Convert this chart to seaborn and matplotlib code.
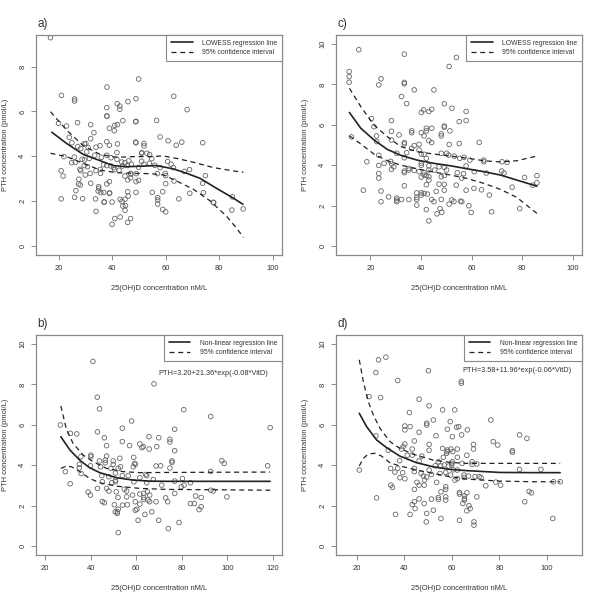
import matplotlib
matplotlib.use("Agg")
import matplotlib.pyplot as plt
from matplotlib.lines import Line2D
import seaborn as sns

# ---------------- Panel a (LOWESS) ----------------
a_x = [17, 38.1, 49.9, 21.1, 26, 26, 63, 45.9, 41.9, 42.9, 42.9, 48.9, 38, 68, 38, 38.1, 48.8, 48.9, 56.6, 44,
       41, 42, 39, 40.8, 20, 23, 27.1, 32, 33.2, 24, 25, 29.6, 32, 27.2, 28.3, 30.2, 31.1, 34, 35.5, 38,
       39, 42, 48.8, 48.9, 51.9, 51.9, 51, 51.1, 57.9, 60.9, 66, 63.9, 73.8, 22, 25.9, 24.9, 26.3, 30.5, 31.5, 33.5,
       29.7, 28.8, 29.6, 28, 28.3, 30.8, 36, 38, 39.6, 41.8, 41.8, 43.6, 43.8, 44.8, 46.2, 45.7, 47.2, 40.6, 41, 42.6,
       39.6, 38, 36.8, 35.6, 34, 35.7, 31.8, 30, 27.6, 27.5, 28.1, 26.5, 21, 21.7, 21, 26, 29, 32, 35, 35,
       34.8, 35.8, 33.8, 34, 37, 37.1, 39, 39.1, 38, 39, 36.9, 40, 40, 41, 43, 43, 43.7, 44, 45, 44.8,
       45.8, 46.9, 45.8, 46, 44.8, 44.8, 46.9, 47, 45.8, 46.9, 48.9, 48.9, 49.9, 49, 49.9, 51.9, 53.9, 54.8, 54, 53,
       55.9, 56.9, 57.9, 59.8, 60, 60.7, 62, 62.9, 63.1, 60, 58.9, 57, 57, 57, 55, 58.9, 60, 64.9, 67, 68.9,
       69, 73.8, 74.1, 74.8, 77.8, 77.9, 84.7, 84.9, 88.9, 51]
a_y = [9.3, 7.09, 7.45, 6.72, 6.56, 6.47, 6.68, 6.44, 6.35, 6.24, 6.1, 6.57, 6.17, 6.08, 5.8, 5.78, 5.54, 5.56, 5.6, 5.59,
       5.38, 5.41, 5.25, 5.14, 5.47, 5.35, 5.5, 5.41, 5.05, 4.84, 4.6, 4.55, 4.78, 4.43, 4.34, 4.57, 4.38, 4.4, 4.47, 4.65,
       4.49, 4.55, 4.63, 4.6, 4.57, 4.46, 4.13, 4.16, 4.86, 4.69, 4.63, 4.49, 4.6, 3.98, 3.96, 3.71, 3.73, 4.19, 3.9, 4.04,
       3.83, 3.86, 3.58, 3.41, 3.35, 3.53, 3.95, 4.04, 3.93, 4.16, 3.86, 3.74, 3.56, 3.71, 3.79, 3.58, 3.64, 3.49, 3.4, 3.37,
       3.56, 3.58, 3.62, 3.41, 3.35, 3.23, 3.23, 3.16, 2.97, 2.76, 2.71, 2.46, 3.35, 3.11, 2.09, 2.16, 2.1, 2.79, 2.64, 2.56,
       2.44, 2.37, 2.09, 1.53, 1.94, 1.96, 2.34, 2.36, 2.76, 2.86, 2.38, 1.95, 0.95, 1.21, 1.28, 2.07, 1.98, 1.77, 1.79, 1.58,
       1.04, 1.21, 2.41, 2.22, 2.07, 3.11, 3.23, 3.2, 2.94, 3.03, 2.38, 2.86, 2.92, 3.22, 3.5, 3.64, 3.68, 3.89, 4.07, 4.13,
       3.59, 3.22, 3.49, 3.23, 3.13, 3.76, 3.64, 3.49, 2.89, 2.77, 2.41, 2.15, 2.04, 1.86, 2.38, 1.62, 1.51, 2.09, 3.32, 3.4,
       2.34, 2.79, 2.37, 3.13, 1.94, 1.92, 1.59, 2.18, 1.64, 3.77]
a_fit_x = [17.5, 23, 29.2, 35.5, 40.4, 45.4, 50.4, 56.6, 62.9, 67.9, 72.8, 79, 85.3, 88.8]
a_fit_y = [5.07, 4.57, 4.08, 3.8, 3.58, 3.53, 3.55, 3.58, 3.43, 3.23, 3.01, 2.56, 2.12, 1.85]
a_up_x = [17, 23, 29.2, 35.5, 41.7, 47.9, 54.1, 59.1, 64.1, 70.3, 77.8, 85.3, 89]
a_up_y = [5.99, 5.17, 4.47, 4.08, 3.95, 3.98, 3.98, 4.01, 3.9, 3.73, 3.49, 3.34, 3.28]
a_lo_x = [17, 23, 29.2, 35.5, 41.7, 47.9, 54.1, 59.1, 64.1, 70.3, 76.6, 82.8, 86.5, 89]
a_lo_y = [4.13, 3.98, 3.68, 3.38, 3.26, 3.23, 3.22, 3.16, 2.89, 2.52, 2.0, 1.3, 0.77, 0.37]

# ---------------- Panel c (LOWESS) ----------------
c_x = [11.6, 11.6, 11.6, 12.5, 15.4, 17.2, 18.6, 20.4, 21.4, 22.4, 22.5, 23.3, 24.2, 23.3, 23.3, 23.3, 23.3, 24.2, 24.2, 25.4,
       27.2, 28.3, 28.3, 28.3, 28, 28.4, 28.3, 29.2, 30.4, 30.4, 30.4, 30.4, 31.3, 32.3, 32.3, 33.4, 33.4, 33.4, 33.4, 33.4,
       33.4, 33.4, 33.4, 33.4, 34.3, 34.3, 35.2, 35.2, 35.2, 36.3, 36.3, 36.3, 37.3, 37.3, 37.3, 38.3, 38.3, 38.3, 38.3, 39.2,
       39.2, 39.2, 40.1, 40.1, 40.1, 40.1, 40.1, 40.1, 40.1, 40.1, 41, 41.2, 41.2, 41.2, 41.2, 41.2, 42.1, 42.1, 42.1, 42.1,
       42.1, 42.1, 42.5, 43.1, 43.1, 43.1, 43.1, 43.1, 43.1, 43.1, 44.2, 44.2, 44.2, 44.2, 45.1, 45.1, 45.4, 46, 46.3, 47.1,
       47.1, 47.5, 48, 48, 48, 48, 48, 48.2, 49.2, 49.2, 49.2, 49.2, 49.2, 49.2, 49.2, 50.1, 50.1, 50.9, 51.1, 51.1,
       51.1, 51.4, 52.2, 52.2, 53, 53.1, 53.9, 54, 54.3, 55.1, 55.1, 55.3, 55.6, 56.1, 56.1, 56.8, 57, 57.8, 57.8, 57.8,
       57.8, 58.9, 59.3, 59.8, 60.9, 61, 63, 63.9, 64.8, 64.8, 65.8, 67, 67.9, 71.9, 72, 72.8, 74, 76, 79, 80.9,
       84.1, 85.8, 85.8]
c_y = [8.64, 8.39, 8.11, 5.4, 9.72, 2.76, 4.17, 6.31, 5.91, 5.45, 5.17, 7.98, 8.28, 4.49, 3.99, 3.59, 3.36, 2.72, 2.19, 4.09,
       2.43, 6.21, 5.68, 5.25, 4.19, 4.06, 3.79, 3.92, 4.59, 2.37, 2.27, 2.19, 5.5, 2.3, 7.4, 9.5, 8.1, 8.03, 5.12, 5.05,
       4.37, 3.71, 3.63, 2.98, 7.05, 4.62, 3.84, 3.76, 2.3, 5.7, 5.61, 4.83, 7.73, 4.97, 3.74, 2.63, 2.4, 2.3, 2.02, 5.03,
       4.75, 3.68, 6.61, 5.61, 4.55, 4.09, 3.99, 3.41, 2.63, 2.52, 6.74, 5.45, 4.54, 3.63, 3.51, 2.6, 5.83, 5.7, 4.34, 3.49,
       3.03, 1.8, 2.57, 6.66, 5.22, 3.97, 3.76, 3.43, 3.26, 1.24, 6.77, 5.83, 5.12, 2.3, 7.73, 2.19, 3.76, 2.7, 1.59, 3.92,
       3.06, 1.85, 5.45, 5.55, 4.59, 3.43, 2.3, 1.67, 7.04, 5.94, 5.88, 3.89, 3.49, 3.05, 2.76, 4.59, 3.76, 4.5, 8.89, 5.03,
       2.07, 5.7, 6.82, 2.28, 2.2, 4.45, 3.01, 9.34, 3.63, 6.16, 5.07, 4.34, 2.22, 2.19, 3.36, 3.58, 4.39, 6.66, 6.21, 3.96,
       2.76, 1.99, 4.25, 1.66, 2.85, 3.68, 5.13, 2.78, 4.25, 4.17, 3.61, 2.52, 1.69, 3.71, 4.17, 3.61, 4.14, 2.91, 1.85, 3.39,
       3.01, 3.48, 3.13]
c_fit_x = [11.7, 16.2, 21.4, 26.7, 32, 38.5, 45.1, 51.7, 58.2, 64.8, 71.4, 77.9, 85.8]
c_fit_y = [6.61, 5.83, 5.25, 4.78, 4.49, 4.25, 4.09, 3.97, 3.82, 3.68, 3.51, 3.26, 2.96]
c_up_x = [11.7, 16.2, 21.4, 26.7, 32, 38.5, 45.1, 51.7, 58.2, 64.8, 71.4, 77.9, 81.9, 85.8]
c_up_y = [7.81, 6.9, 5.99, 5.41, 4.92, 4.67, 4.55, 4.45, 4.35, 4.22, 4.16, 4.22, 4.34, 4.45]
c_lo_x = [11.7, 16.2, 21.4, 26.7, 32, 38.5, 45.1, 51.7, 58.2, 64.8, 71.4, 77.9, 85.8]
c_lo_y = [5.45, 5.05, 4.55, 4.22, 4.0, 3.82, 3.66, 3.51, 3.34, 3.1, 2.8, 2.4, 1.61]

# ---------------- Panel b (non-linear) ----------------
b_x = [26.7, 28.9, 31, 31.1, 33.9, 35, 35, 35.7, 35.8, 38.9, 39.9, 40.1, 40.1, 39.9, 41, 42.9, 43, 43, 43.9, 43.9,
       44.3, 44.9, 45.1, 45.1, 46, 46, 46.4, 46.4, 47, 47, 47, 48, 48, 48.9, 49.3, 49.9, 49.9, 50.4, 50.8, 50.9,
       50.9, 50.9, 51.2, 51.7, 51.7, 52, 52.1, 52.1, 52.1, 52.8, 53.1, 53.9, 53.9, 53.9, 54, 54.8, 55.8, 55.8, 56.1, 56.5,
       57.1, 58, 58.4, 58.7, 58.9, 59, 59.3, 59.6, 59.6, 59.6, 60.3, 60.8, 61.6, 61.6, 61.6, 61.6, 62.5, 63.1, 63.3, 63.3,
       63.3, 63.8, 64.1, 64.6, 64.6, 64.9, 65.2, 65.6, 65.7, 65.9, 65.9, 66.8, 67.5, 67.8, 68.7, 68.7, 69, 69.9, 69.9, 70.7,
       71.2, 72.9, 73.8, 74.1, 74.8, 74.8, 74.8, 75.7, 75.7, 76.9, 76.9, 76.9, 76.9, 78.8, 79.8, 80.3, 80.9, 81, 83.8, 83.8,
       85.5, 86.1, 87.6, 88.5, 88.5, 92.7, 92.7, 92.7, 93.8, 97.6, 98.6, 99.8, 117.7, 118.8]
b_y = [5.99, 3.68, 3.08, 5.58, 5.55, 4.04, 3.87, 4.42, 3.59, 2.67, 2.52, 4.5, 4.42, 3.97, 9.14, 7.37, 5.65, 2.85, 6.79, 4.21,
       3.92, 3.48, 3.18, 2.2, 2.14, 5.36, 4.25, 4.12, 4.97, 4.45, 2.85, 2.72, 3.43, 3.84, 3.13, 4.21, 4.04, 2.04, 1.69, 3.61,
       3.26, 3.18, 2.68, 1.69, 1.61, 2.4, 0.66, 1.82, 3.84, 4.34, 3.92, 5.83, 5.17, 3.48, 2.02, 2.81, 2.72, 2.43, 2.04, 3.48,
       4.97, 6.19, 2.52, 3.92, 4.39, 3.18, 4.09, 4.04, 2.19, 1.77, 1.82, 1.27, 5.05, 3.38, 2.57, 2.07, 4.87, 4.92, 2.6, 2.4,
       2.3, 1.56, 3.54, 3.48, 3.13, 2.68, 2.27, 5.41, 4.8, 2.52, 2.19, 1.69, 3.29, 8.03, 3.96, 2.19, 4.92, 5.36, 1.27, 3.97,
       3.01, 2.38, 2.19, 0.86, 5.28, 5.15, 3.86, 4.21, 4.14, 5.78, 4.72, 3.21, 2.6, 1.16, 2.93, 3.34, 6.75, 3.01, 3.13, 2.1,
       2.1, 2.47, 1.8, 2.4, 1.94, 6.41, 3.69, 2.76, 2.72, 4.22, 4.09, 2.43, 3.97, 5.86]
b_fit_x = [26.9, 30.9, 35.2, 39.6, 44, 51.4, 58.7, 66, 73.4, 90, 118.8]
b_fit_y = [5.41, 4.75, 4.25, 3.87, 3.63, 3.38, 3.26, 3.21, 3.2, 3.2, 3.2]
b_up_x = [26.9, 29.4, 32.3, 36.7, 41.1, 47, 54.3, 61.6, 73.4, 118.8]
b_up_y = [6.94, 5.75, 5.08, 4.5, 4.17, 3.84, 3.68, 3.63, 3.64, 3.66]
b_lo_x = [26.9, 29.4, 31.6, 35.2, 39.6, 44, 51.4, 61.6, 73.4, 118.8]
b_lo_y = [3.84, 3.96, 3.92, 3.68, 3.34, 3.13, 2.96, 2.85, 2.8, 2.76]

# ---------------- Panel d (non-linear) ----------------
d_x = [21, 28, 29.1, 32.2, 25.1, 30, 28, 28.3, 33.2, 34.2, 34.3, 35, 36, 36.3, 37.2, 37.2, 38.1, 38, 38.8, 39.5,
       39.3, 40.2, 40.2, 40.2, 40.2, 41.2, 42.1, 42.4, 42.4, 43.3, 43.3, 43.3, 44.2, 44.2, 44.2, 44.2, 44.2, 44.5, 45.3, 46.2,
       46.2, 46.2, 46.2, 46.2, 47, 47.3, 48, 48.3, 48.3, 48.5, 49.2, 49.4, 49.4, 49.4, 49.4, 50.1, 50.4, 50.4, 50.4, 50.4,
       51.4, 51.4, 52.2, 52.2, 53, 53.3, 53.6, 54.3, 54.3, 54.3, 55, 55.3, 55.4, 55.4, 56.1, 56.1, 56.4, 56.8, 57.4, 57.4,
       57.4, 57.4, 57.4, 57.8, 58.1, 58.1, 58.1, 58.7, 59.3, 59.4, 59.6, 59.9, 59.9, 60.2, 60.2, 60.4, 60.6, 61.2, 61.3, 62,
       62.3, 62.3, 62.3, 62.3, 62.9, 63.2, 63.2, 63.2, 64, 64, 64.1, 64.3, 64.6, 65.1, 65.2, 65.3, 65.3, 65.3, 66.3, 66.3,
       66.3, 66.5, 67, 67.2, 67.7, 68.5, 68.5, 69.1, 69.1, 69.3, 69.3, 69.8, 70.5, 70.5, 71.5, 72.3, 74.3, 76.4, 77.4, 78.5,
       79.3, 80.5, 85.5, 85.5, 88.5, 88.5, 90.7, 91.6, 92.5, 93.5, 97.5, 102.5, 102.8, 105.6]
d_y = [3.76, 8.59, 9.22, 9.35, 7.4, 7.35, 5.45, 2.38, 4.74, 3.84, 3.01, 2.9, 3.66, 1.56, 8.2, 3.84, 3.38, 4.22, 4.8, 4.92,
       3.63, 5.94, 5.75, 5.05, 3.33, 4.49, 6.61, 5.91, 1.56, 4.5, 4.8, 2.05, 5.2, 3.84, 3.68, 2.8, 2.19, 1.85, 3.15, 7.27,
       5.63, 4.21, 3.01, 2.33, 3.59, 4.45, 3.46, 3.01, 2.1, 3.26, 1.19, 3.41, 1.61, 6.08, 5.99, 8.68, 6.94, 5.03, 4.74, 3.76,
       3.54, 2.32, 6.24, 1.77, 3.97, 5.46, 3.15, 4.17, 2.4, 2.3, 3.59, 3.96, 2.68, 1.36, 6.74, 4.83, 4.39, 4.01, 3.64, 2.93,
       2.8, 2.43, 2.27, 4.59, 5.78, 4.75, 4.67, 3.96, 6.16, 3.51, 4.8, 4.09, 4.01, 4.17, 5.41, 4.67, 3.77, 6.74, 3.26, 5.88,
       4.8, 4.39, 3.76, 3.34, 5.91, 1.27, 2.65, 2.57, 8.15, 8.06, 5.5, 4.09, 2.1, 3.51, 3.39, 2.48, 2.35, 2.27, 4.49, 2.63,
       1.74, 5.75, 3.46, 1.99, 1.85, 4.17, 4.04, 5.03, 4.8, 1.19, 1.03, 3.43, 4.06, 2.43, 3.43, 3.38, 2.98, 6.24, 5.17, 3.16,
       5.0, 3.01, 4.72, 4.64, 5.5, 3.79, 2.19, 5.33, 2.7, 2.63, 3.79, 1.36, 3.18, 3.18]
d_fit_x = [21, 24.1, 28.3, 32.5, 38.1, 45.2, 52.2, 59.2, 66.3, 80.3, 94.4, 105.6]
d_fit_y = [6.57, 5.91, 5.25, 4.87, 4.45, 4.12, 3.92, 3.79, 3.73, 3.64, 3.63, 3.63]
d_up_x = [21, 22.7, 24.8, 26.9, 29.7, 33.9, 38.1, 43.8, 52.2, 59.2, 66.3, 105.6]
d_up_y = [9.22, 8.15, 7.15, 6.49, 5.83, 5.17, 4.83, 4.54, 4.25, 4.14, 4.09, 4.09]
d_lo_x = [21, 22.7, 24.8, 27.6, 30.4, 33.9, 38.1, 45.2, 52.2, 59.2, 66.3, 80.3, 94.4, 105.6]
d_lo_y = [3.96, 4.34, 4.55, 4.59, 4.45, 4.12, 3.96, 3.76, 3.59, 3.43, 3.31, 3.21, 3.18, 3.18]

panel_labels = ["a)", "c)", "b)", "d)"]
x_label = "25(OH)D concentration nM/L"
y_label = "PTH concentration (pmol/L)"
legend_lowess = ["LOWESS regression line", "95% confidence interval"]
legend_nl = ["Non-linear regression line", "95% confidence interval"]
formula_b = "PTH=3.20+21.36*exp(-0.08*VitD)"
formula_d = "PTH=3.58+11.96*exp(-0.06*VitD)"

sns.set_style("ticks")
plt.rcParams["font.family"] = ["Liberation Sans", "DejaVu Sans"]

TXT = "#333333"
BOX = "#8a8a8a"
PT = "#666666"
LINE = "#222222"

fig = plt.figure(figsize=(6.0, 5.99), dpi=100)
W, H = 600, 599


def px_axes(l, t, r, b):
    return fig.add_axes([l / W, 1 - b / H, (r - l) / W, (b - t) / H])


panels = [
    dict(pos=(36, 35, 282, 255), x=a_x, y=a_y, fit=(a_fit_x, a_fit_y), up=(a_up_x, a_up_y), lo=(a_lo_x, a_lo_y),
         xlim=(11.6, 103.4), ylim=(-0.42, 9.42), xt=[20, 40, 60, 80, 100], yt=[0, 2, 4, 6, 8],
         leg=legend_lowess, formula=None, label=panel_labels[0], lab_xy=(37, 24)),
    dict(pos=(336, 35, 582, 255), x=c_x, y=c_y, fit=(c_fit_x, c_fit_y), up=(c_up_x, c_up_y), lo=(c_lo_x, c_lo_y),
         xlim=(6.4, 103.6), ylim=(-0.45, 10.45), xt=[20, 40, 60, 80, 100], yt=[0, 2, 4, 6, 8, 10],
         leg=legend_lowess, formula=None, label=panel_labels[1], lab_xy=(337, 24)),
    dict(pos=(36, 335, 282, 555), x=b_x, y=b_y, fit=(b_fit_x, b_fit_y), up=(b_up_x, b_up_y), lo=(b_lo_x, b_lo_y),
         xlim=(16, 124), ylim=(-0.45, 10.45), xt=[20, 40, 60, 80, 100, 120], yt=[0, 2, 4, 6, 8, 10],
         leg=legend_nl, formula=(formula_b, 93.9, 8.53), label=panel_labels[2], lab_xy=(37, 324)),
    dict(pos=(336, 335, 582, 555), x=d_x, y=d_y, fit=(d_fit_x, d_fit_y), up=(d_up_x, d_up_y), lo=(d_lo_x, d_lo_y),
         xlim=(11.2, 114.8), ylim=(-0.45, 10.45), xt=[20, 40, 60, 80, 100], yt=[0, 2, 4, 6, 8, 10],
         leg=legend_nl, formula=(formula_d, 87.6, 8.69), label=panel_labels[3], lab_xy=(337, 324)),
]

for p in panels:
    ax = px_axes(*p["pos"])
    sns.scatterplot(x=p["x"], y=p["y"], ax=ax, marker="o", s=11, fc="none", ec=PT, linewidth=0.6, zorder=2)
    sns.lineplot(x=p["fit"][0], y=p["fit"][1], ax=ax, sort=False, estimator=None, color=LINE, linewidth=1.2, zorder=3)
    for xs, ys in (p["up"], p["lo"]):
        sns.lineplot(x=xs, y=ys, ax=ax, sort=False, estimator=None, color=LINE, linewidth=0.9,
                     dashes=False, zorder=3).lines[-1].set_dashes((4, 3))
    ax.set_xlim(*p["xlim"])
    ax.set_ylim(*p["ylim"])
    ax.set_xticks(p["xt"])
    ax.set_yticks(p["yt"])
    ax.tick_params(axis="both", direction="out", length=3.5, width=0.7, color=BOX, labelsize=5.5,
                   labelcolor=TXT, pad=3.5)
    ax.tick_params(axis="y", labelrotation=90)
    for lab in ax.get_yticklabels():
        lab.set_va("center")
    for s in ax.spines.values():
        s.set_color(BOX)
        s.set_linewidth(0.9)
        s.set_visible(True)
    ax.set_xlabel(x_label, fontsize=5.4, color=TXT)
    ax.set_ylabel(y_label, fontsize=5.4, color=TXT)
    ax.xaxis.set_label_coords(0.5, -0.135)
    ax.yaxis.set_label_coords(-0.108, 0.5)
    handles = [Line2D([], [], color=LINE, lw=1.2),
               Line2D([], [], color=LINE, lw=0.9, dashes=(4, 3))]
    lg = ax.legend(handles, p["leg"], loc="upper right", borderaxespad=0, fancybox=False, framealpha=1,
                   edgecolor=BOX, fontsize=4.9, handlelength=3.2, handletextpad=1.4, labelspacing=0.4,
                   borderpad=0.7)
    lg.get_frame().set_linewidth(0.8)
    for t in lg.get_texts():
        t.set_color(TXT)
    if p["formula"]:
        txt, fx, fy = p["formula"]
        ax.text(fx, fy, txt, fontsize=5.3, color=TXT, ha="center", va="center")
    fig.text(p["lab_xy"][0] / W, 1 - p["lab_xy"][1] / H, p["label"], fontsize=8.5, color=TXT,
             ha="left", va="center")

fig.savefig("out.png", dpi=100, facecolor="white")
